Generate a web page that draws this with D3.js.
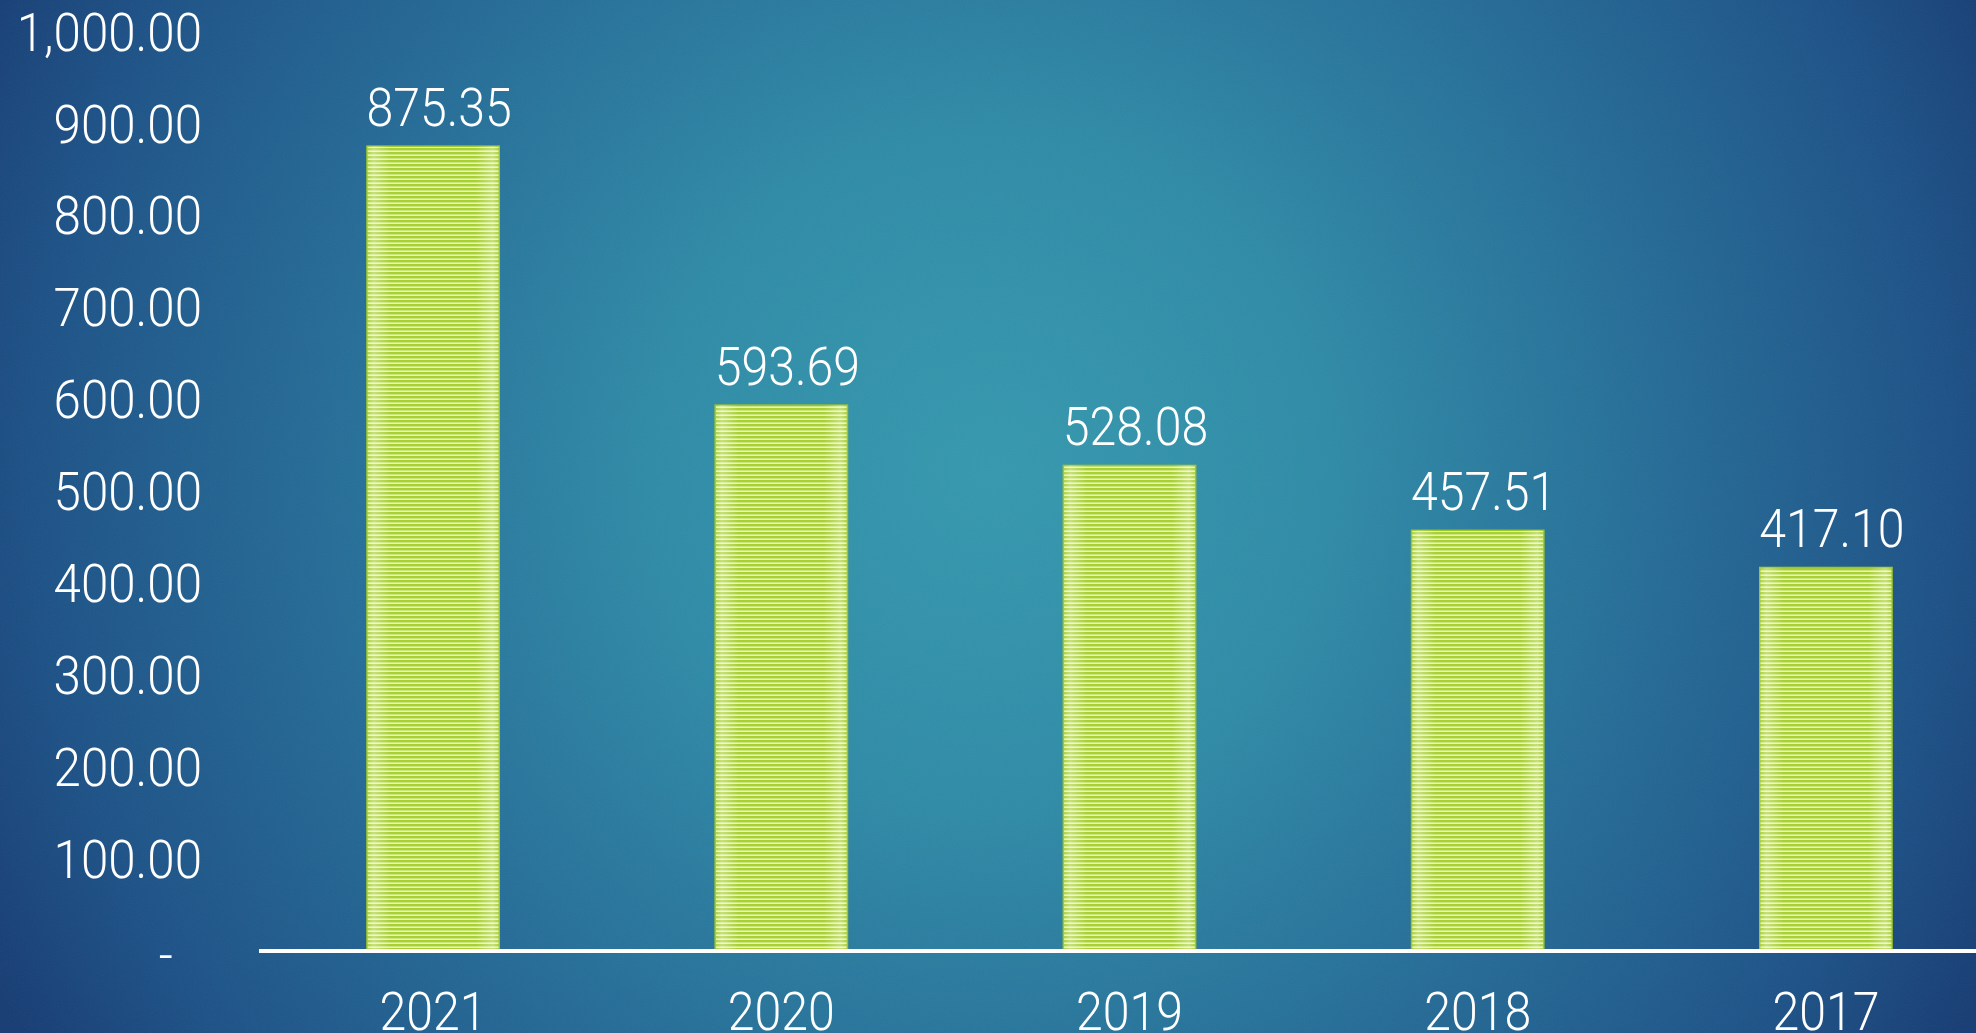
<!DOCTYPE html>
<html><head><meta charset="utf-8">
<script src="https://cdn.jsdelivr.net/npm/d3@7"></script>
<style>html,body{margin:0;padding:0;overflow:hidden;background:#1f5a8a}</style>
</head><body>
<svg id="c" width="1976" height="1033"></svg>
<script>
const years = ["2021", "2020", "2019", "2018", "2017"];
const values = [875.35, 593.69, 528.08, 457.51, 417.10];
const yTicks = [0, 100, 200, 300, 400, 500, 600, 700, 800, 900, 1000];

const W = 1976, H = 1033;
const svg = d3.select("#c");
const defs = svg.append("defs");

const rg = defs.append("radialGradient").attr("id", "bg")
  .attr("gradientUnits", "userSpaceOnUse")
  .attr("cx", 990).attr("cy", 470).attr("r", 1120);
[[0, "#3599ae"], [0.3, "#2f8ba7"], [0.6, "#256c97"], [0.85, "#1d5287"], [1, "#173d74"]]
  .forEach(([o, c]) => rg.append("stop").attr("offset", o).attr("stop-color", c));

const pat = defs.append("pattern").attr("id", "stripes")
  .attr("patternUnits", "userSpaceOnUse").attr("width", 20).attr("height", 4);
pat.append("rect").attr("width", 20).attr("height", 4).attr("fill", "#a8d031");
pat.append("rect").attr("y", 2.4).attr("width", 20).attr("height", 1.6).attr("fill", "#e8f3b8");

const edge = defs.append("linearGradient").attr("id", "edge").attr("x1", 0).attr("x2", 1);
[[0, 0.05], [0.05, 0.35], [0.18, 0], [0.82, 0], [0.95, 0.35], [1, 0.05]]
  .forEach(([o, a]) => edge.append("stop").attr("offset", o).attr("stop-color", "#ffffff").attr("stop-opacity", a));

const nf = defs.append("filter").attr("id", "noise");
nf.append("feTurbulence").attr("type", "fractalNoise").attr("baseFrequency", 0.9).attr("numOctaves", 2).attr("result", "n");
nf.append("feColorMatrix").attr("type", "saturate").attr("values", 0);

svg.append("rect").attr("width", W).attr("height", H).attr("fill", "url(#bg)");
svg.append("rect").attr("width", W).attr("height", H).attr("filter", "url(#noise)").attr("opacity", 0.05);

const x = d3.scaleBand().domain(years).range([259, 2000]).paddingInner(0.62).paddingOuter(0.31);
const y = d3.scaleLinear().domain([0, 1000]).range([951, 31.5]);

const SX_T = 0.93, SX_V = 0.91;
const font = "Roboto, 'Noto Sans', sans-serif";

// y tick labels
svg.append("g").selectAll("text").data(yTicks).join("text")
  .attr("transform", d => `translate(${d === 0 ? 173 : 202},${y(d) + (d === 0 ? 4 : 0)}) scale(${SX_T},1)`)
  .attr("text-anchor", "end")
  .attr("dy", "0.36em")
  .attr("fill", "#ffffff")
  .attr("font-family", font).attr("font-weight", 300).attr("font-size", 53)
  .text(d => d === 0 ? "-" : d3.format(",.2f")(d));

// bars
const bars = svg.append("g");
bars.selectAll("rect.b").data(values).join("rect").attr("class", "b")
  .attr("x", (d, i) => x(years[i])).attr("width", x.bandwidth())
  .attr("y", d => y(d)).attr("height", d => y(0) - y(d))
  .attr("fill", "url(#stripes)").attr("stroke", "#9cc42c").attr("stroke-width", 1.5);
bars.selectAll("rect.e").data(values).join("rect").attr("class", "e")
  .attr("x", (d, i) => x(years[i])).attr("width", x.bandwidth())
  .attr("y", d => y(d)).attr("height", d => y(0) - y(d))
  .attr("fill", "url(#edge)");

// axis line
svg.append("line").attr("x1", x.range()[0]).attr("x2", W)
  .attr("y1", y(0)).attr("y2", y(0))
  .attr("stroke", "#ffffff").attr("stroke-width", 4);

// value labels
svg.append("g").selectAll("text").data(values).join("text")
  .attr("transform", (d, i) => `translate(${x(years[i]) + x.bandwidth() / 2 + 6},${y(d) - 20}) scale(${SX_V},1)`)
  .attr("text-anchor", "middle")
  .attr("fill", "#ffffff")
  .attr("font-family", font).attr("font-weight", 300).attr("font-size", 53)
  .text(d => d3.format(",.2f")(d));

// x labels
svg.append("g").selectAll("text").data(years).join("text")
  .attr("transform", d => `translate(${x(d) + x.bandwidth() / 2},${y(0) + 79}) scale(${SX_V},1)`)
  .attr("text-anchor", "middle")
  .attr("fill", "#ffffff")
  .attr("font-family", font).attr("font-weight", 300).attr("font-size", 53)
  .text(d => d);
</script>
</body></html>
